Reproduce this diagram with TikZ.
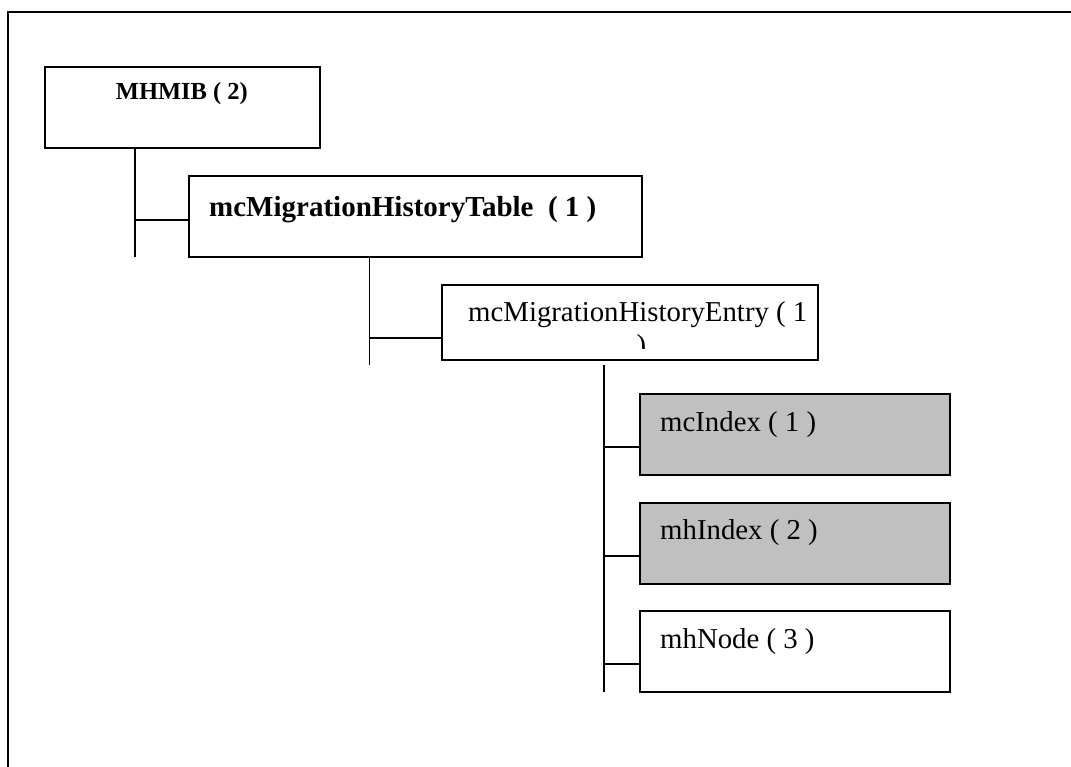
\documentclass[tikz,border=0pt]{standalone}
\usepackage{fontspec}
\setmainfont{Liberation Serif}
\definecolor{boxgray}{HTML}{C0C0C0}
\tikzset{
  box/.style={draw=black, line width=1.9pt, rectangle, inner sep=0pt, anchor=north west},
  shaded/.style={box, fill=boxgray},
  link/.style={draw=black, line width=1.9pt},
  lbl/.style={anchor=base west, inner sep=0pt},
  bigfont/.style={font=\fontsize{28.8}{32}\selectfont},
  smallbold/.style={font=\fontsize{24.5}{28}\selectfont\bfseries},
  bigbold/.style={font=\fontsize{29}{32}\selectfont\bfseries}
}
\begin{document}
\begin{tikzpicture}[x=1pt,y=-1pt]
\useasboundingbox (0,0) rectangle (1071,767);
% outer frame (top and left edges only visible)
\draw[line width=2pt] (1071,12.3) -- (8.3,12.3) -- (8.3,767);

% boxes
\node[box, minimum width=275pt, minimum height=81pt] (mhmib) at (44.3,66) {};
\node[box, minimum width=453pt, minimum height=81pt] (table) at (188.3,175) {};
\node[box, minimum width=376pt, minimum height=75pt] (entry) at (441,284) {};
\node[shaded, minimum width=310pt, minimum height=81pt] (mcindex) at (639,392.7) {};
\node[shaded, minimum width=310pt, minimum height=81pt] (mhindex) at (639,501.7) {};
\node[box, minimum width=310pt, minimum height=81pt] (mhnode) at (639,610) {};

% labels
\node[lbl, smallbold] (tmhmib) at (115.7,100) {MHMIB ( 2)};
\node[lbl, bigbold] (ttable) at (209,216.7) {mcMigrationHistoryTable\ \ ( 1 )};
\node[lbl, bigfont] (tentry) at (468,321.7) {mcMigrationHistoryEntry ( 1};
\begin{scope}
  \clip (620,330) rectangle (660,348);
  \node[lbl, bigfont] (tentry2) at (636.5,354) {)};
\end{scope}
\node[lbl, bigfont] (tmcindex) at (660,431.7) {mcIndex ( 1 )};
\node[lbl, bigfont] (tmhindex) at (660,539.3) {mhIndex ( 2 )};
\node[lbl, bigfont] (tmhnode) at (660,648.3) {mhNode ( 3 )};

% connector coordinates
\coordinate (trunkA) at (135,256.7);
\coordinate (stubA) at (135,220);
\coordinate (trunkB) at (369.5,365);
\coordinate (stubB) at (369.5,338.3);
\coordinate (trunkCtop) at (604,365);
\coordinate (trunkC) at (604,691.7);
\coordinate (stubC1) at (604,447);
\coordinate (stubC2) at (604,555.7);
\coordinate (stubC3) at (604,664.3);

% connectors
\draw[link] (mhmib.south -| trunkA) -- (trunkA);
\draw[link] (stubA) -- (table.west |- stubA);
\draw[link] (table.south -| trunkB) -- (trunkB);
\draw[link] (stubB) -- (entry.west |- stubB);
\draw[link] (trunkCtop) -- (trunkC);
\draw[link] (stubC1) -- (mcindex.west |- stubC1);
\draw[link] (stubC2) -- (mhindex.west |- stubC2);
\draw[link] (stubC3) -- (mhnode.west |- stubC3);
\end{tikzpicture}
\end{document}
